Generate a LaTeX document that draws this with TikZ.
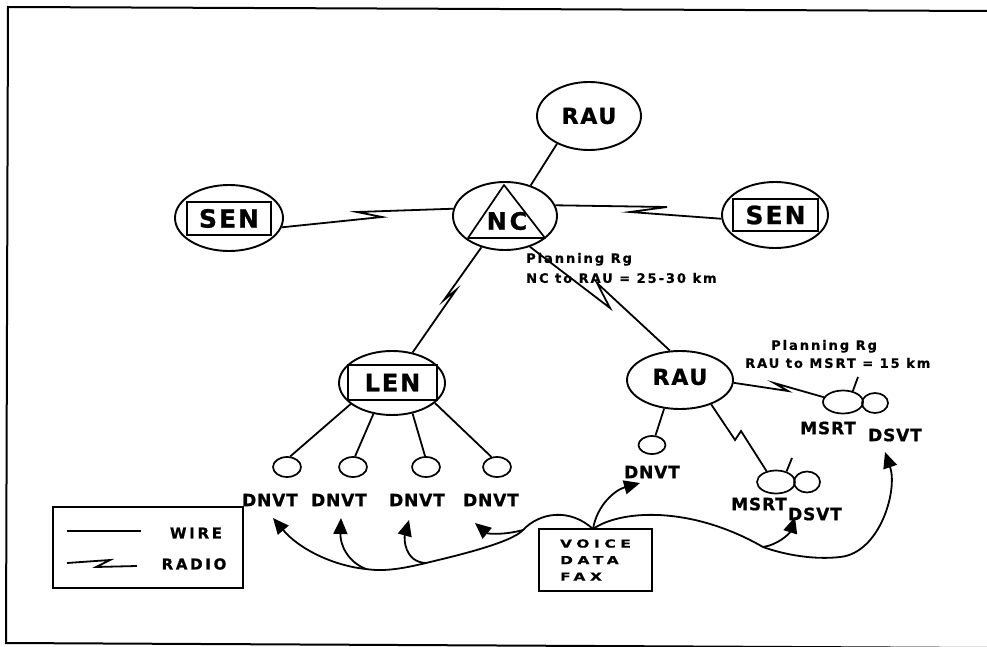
\documentclass[tikz,border=0pt]{standalone}
\usepackage{fontspec}
\usetikzlibrary{shapes.geometric,arrows.meta}
\newfontfamily\lblBig{DejaVu Sans Bold}[LetterSpace=8,FakeBold=1]
\newfontfamily\lblNC{DejaVu Sans Bold}[LetterSpace=12,FakeBold=1]
\newfontfamily\lblMid{DejaVu Sans Bold}[LetterSpace=5,FakeBold=0.8]
\newfontfamily\lblLeg{DejaVu Sans Bold}[LetterSpace=18,FakeBold=0.8]
\newfontfamily\lblPlan{DejaVu Sans Bold}[LetterSpace=15,FakeBold=0.6]
\newfontfamily\lblWide{DejaVu Sans Bold}[FakeStretch=1.4,LetterSpace=42,FakeBold=0.8]
\begin{document}
\begin{tikzpicture}[x=1pt,y=-1pt,
  ell/.style={draw,ellipse,line width=1.9pt,inner sep=0pt},
  smallell/.style={draw,ellipse,line width=1.7pt,inner sep=0pt},
  boxed/.style={draw,rectangle,line width=1.6pt,inner sep=0pt},
  wire/.style={line width=1.8pt,line join=miter},
  arr/.style={line width=1.8pt,-{Triangle[length=16pt,width=14pt]}},
  fbig/.style={font=\lblBig\fontsize{#1}{#1}\selectfont},
  fnc/.style={font=\lblNC\fontsize{24}{24}\selectfont},
  fmid/.style={font=\lblMid\fontsize{17}{19}\selectfont},
  fplan/.style={font=\lblPlan\fontsize{13}{#1}\selectfont},
  fleg/.style={font=\lblLeg\fontsize{15}{17}\selectfont},
  fwide/.style={font=\lblWide\fontsize{11}{16.5}\selectfont},
  txt/.style={inner sep=0pt}]
\useasboundingbox (0,0) rectangle (987,647);
% scanned frame: slightly skewed, right and lower-right edges fall outside the page
\draw[line width=2pt,line join=miter] (990,11) -- (8,7) -- (6,643) -- (990,648);

% main nodes
\node[ell,minimum width=104pt,minimum height=68pt,fbig=22] (rauT) at (589,116) {RAU};
\node[ell,minimum width=104pt,minimum height=68pt] (nc) at (505,216) {};
\draw[line width=1.7pt,line join=round] (504,185) -- (468,238) -- (545,238) -- cycle;
\node[txt,fnc] (nct) at (507,221) {NC};
\node[ell,minimum width=108pt,minimum height=66pt] (senL) at (229,218) {};
\node[boxed,minimum width=84pt,minimum height=33pt,fbig=25] (senLt) at (229,218.5) {SEN};
\node[ell,minimum width=106pt,minimum height=66pt] (senR) at (775,215) {};
\node[boxed,minimum width=85pt,minimum height=32pt,fbig=25] (senRt) at (775.5,215) {SEN};
\node[ell,minimum width=106pt,minimum height=64pt] (len) at (392,383) {};
\node[boxed,minimum width=89pt,minimum height=35pt,fbig=24] (lent) at (392.5,382.5) {LEN};
\node[ell,minimum width=106pt,minimum height=58pt] (rauB) at (680,380) {};
\node[txt,fbig=22] (rauBt) at (680,377) {RAU};

% small terminals
\node[smallell,minimum width=28pt,minimum height=20pt] (c1) at (287,467) {};
\node[smallell,minimum width=28pt,minimum height=20pt] (c2) at (353,467) {};
\node[smallell,minimum width=28pt,minimum height=20pt] (c3) at (426,467) {};
\node[smallell,minimum width=28pt,minimum height=20pt] (c4) at (497,467) {};
\node[smallell,minimum width=27pt,minimum height=18pt] (dnvR) at (652,445) {};
\node[smallell,minimum width=38pt,minimum height=23pt] (msL) at (776,482) {};
\node[smallell,minimum width=26pt,minimum height=21pt] (dsL) at (807,482) {};
\node[smallell,minimum width=40pt,minimum height=23pt] (msU) at (843,402) {};
\node[smallell,minimum width=26pt,minimum height=20pt] (dsU) at (875,403) {};
\coordinate (tkU) at (858,377);
\coordinate (tkL) at (792,458);
\draw[wire] (msU.48) -- (tkU);
\draw[wire] (msL.45) -- (tkL);

% labels
\node[txt,fmid] (d1) at (270,500) {DNVT};
\node[txt,fmid] (d2) at (339,500) {DNVT};
\node[txt,fmid] (d3) at (417,500) {DNVT};
\node[txt,fmid] (d4) at (491,500) {DNVT};
\node[txt,fmid] (dR) at (652,472) {DNVT};
\node[txt,fmid] (mU) at (828,428) {MSRT};
\node[txt,fmid] (sU) at (895,435) {DSVT};
\node[txt,fmid] (mL) at (759,504) {MSRT};
\node[txt,fmid] (sL) at (815,514) {DSVT};
\node[txt,fplan=20,align=left,anchor=west] (pl1) at (526,268) {Planning Rg\\NC to RAU = 25-30 km};
\node[txt,fplan=18,align=left,anchor=west] (pl2) at (745,354) {\hspace*{26pt}Planning Rg\\RAU to MSRT = 15 km};

% wires
\draw[wire] (nc.50) -- (rauT.221);
\draw[wire] (len.207) -- (c1.73);
\draw[wire] (len.239) -- (c2.79);
\draw[wire] (len.-56) -- (c3.95);
\draw[wire] (len.-25) -- (c4.119);
\draw[wire] (rauB.241) -- (dnvR.70);

% radio links
\coordinate (zA1) at (382,217); \coordinate (zA2) at (357,212);
\draw[wire] (senL.-10) -- (zA1) -- (zA2) -- (nc.172);
\coordinate (zB1) at (667,207); \coordinate (zB2) at (630,212);
\draw[wire] (nc.12) -- (zB1) -- (zB2) -- (senR.184);
\coordinate (zC1) at (444,300); \coordinate (zC2) at (456,290);
\draw[wire] (nc.233) -- (zC1) -- (zC2) -- (len.56);
\coordinate (zD1) at (610,308); \coordinate (zD2) at (597,283);
\draw[wire] (nc.-51) -- (zD1) -- (zD2) -- (rauB.109);
\coordinate (zE1) at (788,391); \coordinate (zE2) at (774,383);
\draw[wire] (rauB.-3) -- (zE1) -- (zE2) -- (msU.166);
\coordinate (zF1) at (735,440); \coordinate (zF2) at (741,431);
\draw[wire] (rauB.-38) -- (zF1) -- (zF2) -- (msL.131);

% legend
\node[draw,line width=1.6pt,minimum width=190pt,minimum height=81pt,inner sep=0pt] (leg) at (148,547.5) {};
\coordinate (w1) at (67,531); \coordinate (w2) at (141,531);
\draw[wire] (w1) -- (w2);
\node[txt,fleg] (wt) at (196,533) {WIRE};
\coordinate (r1) at (67,563); \coordinate (r2) at (110,560);
\coordinate (r3) at (96,567); \coordinate (r4) at (137,566);
\draw[wire] (r1) -- (r2) -- (r3) -- (r4);
\node[txt,fleg] (rt) at (194,564) {RADIO};

% voice/data/fax box and arrows
\node[draw,line width=1.6pt,minimum width=113pt,minimum height=62pt,inner sep=0pt,fwide,align=left] (vdf) at (595.5,560) {VOICE\\DATA\\FAX};
\coordinate (S) at (593,529);
\coordinate (J4) at (523,530); \coordinate (J3) at (426,563); \coordinate (J2) at (366,569);
\coordinate (A1) at (273,518); \coordinate (A2) at (341,518); \coordinate (A3) at (409,520); \coordinate (A4) at (475,523);
\coordinate (J5) at (763,547); \coordinate (J6) at (840,557);
\coordinate (A5) at (795,517); \coordinate (A6) at (885,452); \coordinate (A7) at (640,483);
\draw[arr] (S) .. controls (570,508) and (540,512) .. (J4) .. controls (511,543) and (455,556) .. (J3) .. controls (405,568) and (385,572) .. (J2) .. controls (335,566) and (300,550) .. (A1);
\draw[arr] (J2) .. controls (348,562) and (340,545) .. (A2);
\draw[arr] (J3) .. controls (404,562) and (404,538) .. (A3);
\draw[arr] (J4) .. controls (505,535) and (488,534) .. (A4);
\draw[arr] (S) .. controls (620,510) and (690,505) .. (J5) .. controls (785,555) and (815,560) .. (J6) .. controls (880,553) and (898,490) .. (A6);
\draw[arr] (J5) .. controls (778,545) and (790,533) .. (A5);
\draw[arr] (S) .. controls (597,505) and (615,490) .. (A7);
\end{tikzpicture}
\end{document}
